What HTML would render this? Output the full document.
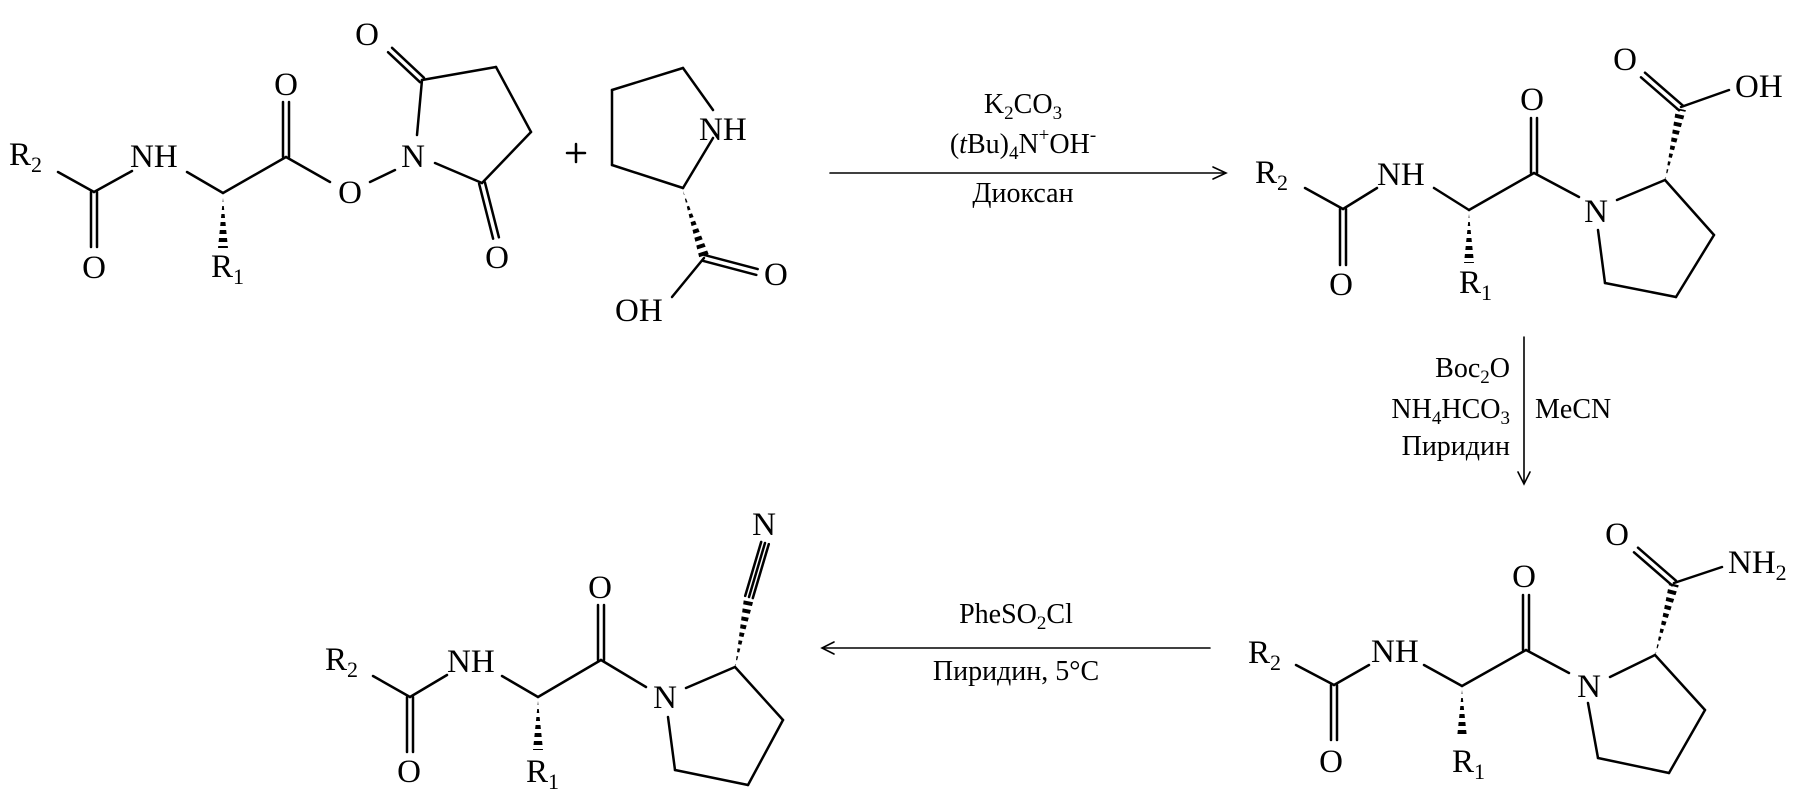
<!DOCTYPE html>
<html><head><meta charset="utf-8"><style>
html,body{margin:0;padding:0;background:#fff}
svg{display:block}
text{font-family:"Liberation Serif",serif;fill:#000}
.a{font-size:33px}
.r{font-size:28px}
</style></head><body>
<svg width="1806" height="806" viewBox="0 0 1806 806" xmlns="http://www.w3.org/2000/svg">
<defs>
<mask id="hm" maskUnits="userSpaceOnUse" x="0" y="0" width="1806" height="806">
<g stroke="#fff" stroke-width="16" stroke-dasharray="4 4" fill="none">
<line x1="223" y1="198" x2="223" y2="248"/>
<line x1="683" y1="191" x2="704" y2="256"/>
<line x1="1469" y1="214" x2="1469" y2="263"/>
<line x1="1665" y1="181" x2="1681" y2="109"/>
<line x1="1462" y1="690" x2="1462" y2="738"/>
<line x1="1655" y1="656" x2="1674" y2="584"/>
<line x1="538" y1="701" x2="538" y2="750"/>
<line x1="735" y1="668" x2="749" y2="598"/>
</g>
</mask>
</defs>
<g fill="#000" mask="url(#hm)">
<polygon points="223,198 218,248 228,248"/>
<polygon points="683,191 708.8,254.5 699.2,257.5"/>
<polygon points="1469,214 1464,263 1474,263"/>
<polygon points="1665,181 1685.9,110.1 1676.1,107.9"/>
<polygon points="1462,690 1457,738 1467,738"/>
<polygon points="1655,656 1678.8,585.3 1669.2,582.7"/>
<polygon points="538,701 533,750 543,750"/>
<polygon points="735,668 753.9,599 744.1,597"/>
</g>
<g stroke="#000" stroke-width="2.5" fill="none" stroke-linecap="round">
<line x1="58" y1="172" x2="94" y2="192"/>
<line x1="91" y1="192" x2="91" y2="247"/><line x1="97" y1="192" x2="97" y2="247"/>
<line x1="94" y1="192" x2="132" y2="171"/>
<line x1="187" y1="172" x2="223" y2="193"/>
<line x1="223" y1="193" x2="286" y2="157"/>
<line x1="283" y1="157" x2="283" y2="102"/><line x1="289" y1="157" x2="289" y2="102"/>
<line x1="286" y1="157" x2="330" y2="182"/>
<line x1="370" y1="182" x2="395" y2="170"/>
<line x1="417" y1="135" x2="422" y2="80"/>
<line x1="424" y1="77.8" x2="392" y2="47.8"/><line x1="420" y1="82.2" x2="388" y2="52.2"/>
<line x1="422" y1="80" x2="496" y2="67"/>
<line x1="496" y1="67" x2="531" y2="132"/>
<line x1="531" y1="132" x2="482" y2="183"/>
<line x1="482" y1="183" x2="435" y2="163"/>
<line x1="484.9" y1="182.3" x2="498.9" y2="237.3"/><line x1="479.1" y1="183.7" x2="493.1" y2="238.7"/>
<line x1="567" y1="153" x2="585" y2="153"/><line x1="576" y1="144" x2="576" y2="162"/>
<line x1="612" y1="90" x2="683" y2="68"/>
<line x1="612" y1="90" x2="612" y2="165"/>
<line x1="612" y1="165" x2="683" y2="188"/>
<line x1="683" y1="68" x2="713" y2="110"/>
<line x1="713" y1="138" x2="683" y2="188"/>
<line x1="703.3" y1="260.9" x2="756.3" y2="274.9"/><line x1="704.7" y1="255.1" x2="757.7" y2="269.1"/>
<line x1="704" y1="258" x2="672" y2="297"/>
<line x1="830" y1="173" x2="1225" y2="173" stroke-width="1.6"/>
<polyline points="1213,167 1226,173 1213,179" stroke-width="1.6"/>
<line x1="1305" y1="188" x2="1343" y2="209"/>
<line x1="1340" y1="209" x2="1340" y2="265"/><line x1="1346" y1="209" x2="1346" y2="265"/>
<line x1="1343" y1="209" x2="1377" y2="188"/>
<line x1="1434" y1="188" x2="1469" y2="210"/>
<line x1="1469" y1="210" x2="1534" y2="173"/>
<line x1="1531" y1="173" x2="1531" y2="118"/><line x1="1537" y1="173" x2="1537" y2="118"/>
<line x1="1534" y1="173" x2="1579" y2="197"/>
<line x1="1617" y1="200" x2="1665" y2="180"/>
<line x1="1598" y1="230" x2="1605" y2="283"/>
<line x1="1605" y1="283" x2="1676" y2="297"/>
<line x1="1676" y1="297" x2="1714" y2="235"/>
<line x1="1714" y1="235" x2="1665" y2="180"/>
<line x1="1683" y1="105.7" x2="1645" y2="72.7"/><line x1="1679" y1="110.3" x2="1641" y2="77.3"/>
<line x1="1681" y1="107" x2="1729" y2="90"/>
<line x1="1524" y1="337" x2="1524" y2="483" stroke-width="1.6"/>
<polyline points="1518,472 1524,484 1530,472" stroke-width="1.6"/>
<line x1="1296" y1="665" x2="1334" y2="685"/>
<line x1="1331" y1="685" x2="1331" y2="740"/><line x1="1337" y1="685" x2="1337" y2="740"/>
<line x1="1334" y1="685" x2="1369" y2="665"/>
<line x1="1424" y1="665" x2="1462" y2="686"/>
<line x1="1462" y1="686" x2="1526" y2="650"/>
<line x1="1523" y1="650" x2="1523" y2="595"/><line x1="1529" y1="650" x2="1529" y2="595"/>
<line x1="1526" y1="650" x2="1569" y2="673"/>
<line x1="1610" y1="677" x2="1655" y2="655"/>
<line x1="1588" y1="703" x2="1598" y2="758"/>
<line x1="1598" y1="758" x2="1669" y2="773"/>
<line x1="1669" y1="773" x2="1705" y2="710"/>
<line x1="1705" y1="710" x2="1655" y2="655"/>
<line x1="1676" y1="580.7" x2="1638" y2="547.7"/><line x1="1672" y1="585.3" x2="1634" y2="552.3"/>
<line x1="1674" y1="583" x2="1722" y2="567"/>
<line x1="823" y1="648" x2="1210" y2="648" stroke-width="1.6"/>
<polyline points="834,642 822,648 834,654" stroke-width="1.6"/>
<line x1="373" y1="676" x2="410" y2="697"/>
<line x1="407" y1="697" x2="407" y2="752"/><line x1="413" y1="697" x2="413" y2="752"/>
<line x1="410" y1="697" x2="447" y2="675"/>
<line x1="502" y1="676" x2="538" y2="697"/>
<line x1="538" y1="697" x2="601" y2="660"/>
<line x1="598" y1="660" x2="598" y2="605"/><line x1="604" y1="660" x2="604" y2="605"/>
<line x1="601" y1="660" x2="646" y2="687"/>
<line x1="686" y1="688" x2="735" y2="667"/>
<line x1="668" y1="717" x2="675" y2="770"/>
<line x1="675" y1="770" x2="748" y2="785"/>
<line x1="748" y1="785" x2="783" y2="720"/>
<line x1="783" y1="720" x2="735" y2="667"/>
<line x1="749" y1="597" x2="765" y2="543"/>
<line x1="752.8" y1="598.1" x2="768.8" y2="544.1"/>
<line x1="745.2" y1="595.9" x2="761.2" y2="541.9"/>
</g>
<text class="a" x="9" y="165">R<tspan font-size="22" dy="7">2</tspan></text>
<text class="a" x="130" y="167">NH</text>
<text class="a" x="94" y="278" text-anchor="middle">O</text>
<text class="a" x="211" y="277">R<tspan font-size="22" dy="7">1</tspan></text>
<text class="a" x="286" y="95" text-anchor="middle">O</text>
<text class="a" x="350" y="203" text-anchor="middle">O</text>
<text class="a" x="413" y="167" text-anchor="middle">N</text>
<text class="a" x="367" y="45" text-anchor="middle">O</text>
<text class="a" x="497" y="268" text-anchor="middle">O</text>
<text class="a" x="699" y="140">NH</text>
<text class="a" x="764" y="285">O</text>
<text class="a" x="615" y="321">OH</text>
<text class="r" x="1023" y="113" text-anchor="middle">K<tspan font-size="19" dy="6">2</tspan><tspan dy="-6">CO</tspan><tspan font-size="19" dy="6">3</tspan></text>
<text class="r" x="1023" y="153" text-anchor="middle">(<tspan font-style="italic">t</tspan>Bu)<tspan font-size="19" dy="6">4</tspan><tspan dy="-6">N</tspan><tspan font-size="19" dy="-12">+</tspan><tspan dy="12">OH</tspan><tspan font-size="19" dy="-12">-</tspan></text>
<text class="r" x="1023" y="202" text-anchor="middle">Диоксан</text>
<text class="a" x="1255" y="183">R<tspan font-size="22" dy="7">2</tspan></text>
<text class="a" x="1377" y="185">NH</text>
<text class="a" x="1341" y="295" text-anchor="middle">O</text>
<text class="a" x="1459" y="293">R<tspan font-size="22" dy="7">1</tspan></text>
<text class="a" x="1532" y="110" text-anchor="middle">O</text>
<text class="a" x="1596" y="222" text-anchor="middle">N</text>
<text class="a" x="1625" y="70" text-anchor="middle">O</text>
<text class="a" x="1735" y="97">OH</text>
<text class="r" x="1510" y="377" text-anchor="end">Boc<tspan font-size="19" dy="6">2</tspan><tspan dy="-6">O</tspan></text>
<text class="r" x="1510" y="418" text-anchor="end">NH<tspan font-size="19" dy="6">4</tspan><tspan dy="-6">HCO</tspan><tspan font-size="19" dy="6">3</tspan></text>
<text class="r" x="1510" y="455" text-anchor="end">Пиридин</text>
<text class="r" x="1535" y="418">MeCN</text>
<text class="a" x="1248" y="663">R<tspan font-size="22" dy="7">2</tspan></text>
<text class="a" x="1371" y="662">NH</text>
<text class="a" x="1331" y="772" text-anchor="middle">O</text>
<text class="a" x="1452" y="772">R<tspan font-size="22" dy="7">1</tspan></text>
<text class="a" x="1524" y="587" text-anchor="middle">O</text>
<text class="a" x="1589" y="697" text-anchor="middle">N</text>
<text class="a" x="1617" y="545" text-anchor="middle">O</text>
<text class="a" x="1728" y="573">NH<tspan font-size="22" dy="7">2</tspan></text>
<text class="r" x="1016" y="623" text-anchor="middle">PheSO<tspan font-size="19" dy="6">2</tspan><tspan dy="-6">Cl</tspan></text>
<text class="r" x="1016" y="680" text-anchor="middle">Пиридин, 5°C</text>
<text class="a" x="325" y="670">R<tspan font-size="22" dy="7">2</tspan></text>
<text class="a" x="447" y="672">NH</text>
<text class="a" x="409" y="782" text-anchor="middle">O</text>
<text class="a" x="526" y="782">R<tspan font-size="22" dy="7">1</tspan></text>
<text class="a" x="600" y="598" text-anchor="middle">O</text>
<text class="a" x="665" y="708" text-anchor="middle">N</text>
<text class="a" x="764" y="535" text-anchor="middle">N</text>
</svg>
</body></html>
